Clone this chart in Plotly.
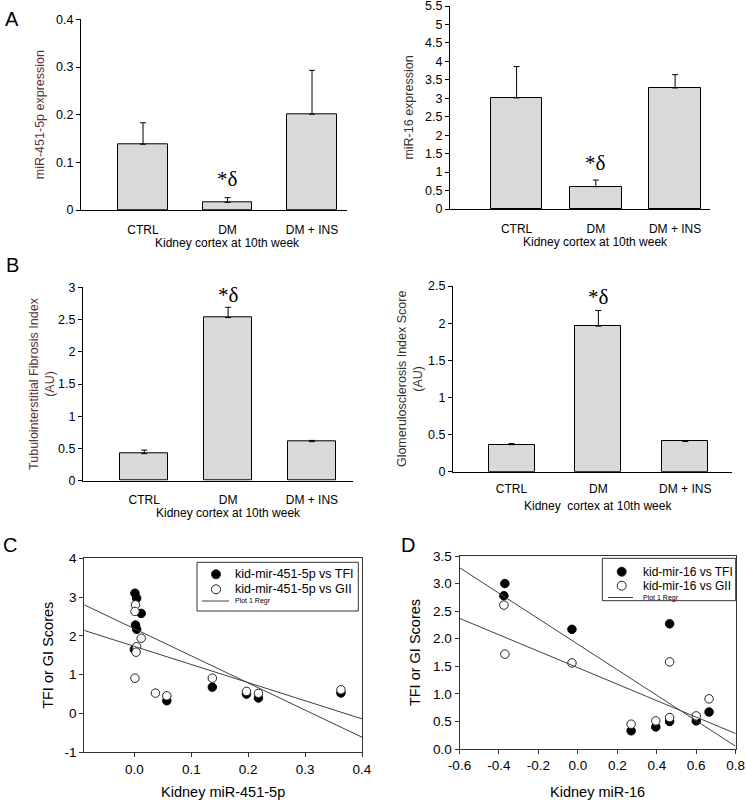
import plotly.graph_objects as go

# ---------------- data ----------------
groups = ["CTRL", "DM", "DM + INS"]

mir451_mean = [0.138, 0.016, 0.201]
mir451_sem = [0.045, 0.010, 0.092]

mir16_mean = [3.01, 0.605, 3.28]
mir16_sem = [0.85, 0.18, 0.36]

tfi_mean = [0.42, 2.53, 0.605]
tfi_sem = [0.055, 0.16, 0.02]

gii_mean = [0.364, 1.96, 0.408]
gii_sem = [0.015, 0.21, 0.005]

# Panel C: kidney miR-451-5p vs TFI / GII
c_tfi_x = [0.001, 0.004, 0.012, 0.002, 0.004, 0.000, 0.057, 0.137, 0.197, 0.218, 0.363]
c_tfi_y = [3.10, 2.97, 2.58, 2.28, 2.17, 1.65, 0.33, 0.68, 0.50, 0.40, 0.53]
c_gii_x = [0.002, 0.001, 0.012, 0.004, 0.003, 0.001, 0.037, 0.057, 0.137, 0.197, 0.218, 0.363]
c_gii_y = [2.80, 2.63, 1.94, 1.72, 1.58, 0.91, 0.525, 0.455, 0.91, 0.57, 0.52, 0.61]
c_regr_intercept = [2.185, 1.73]
c_regr_slope = [-6.99, -4.67]
c_xrange = [-0.088, 0.4]
c_names = ["kid-mir-451-5p vs TFI", "kid-mir-451-5p vs GII", "Plot 1 Regr"]
c_yticks = [-1, 0, 1, 2, 3, 4]
c_yticktext = ["-1", "0", "1", "2", "3", "4"]

# Panel D: kidney miR-16 vs TFI / GII
d_tfi_x = [-0.37, -0.375, -0.03, 0.465, 0.27, 0.395, 0.465, 0.60, 0.665]
d_tfi_y = [3.00, 2.78, 2.17, 2.27, 0.33, 0.40, 0.50, 0.51, 0.67]
d_gii_x = [-0.375, -0.37, -0.03, 0.465, 0.27, 0.395, 0.465, 0.60, 0.665]
d_gii_y = [2.61, 1.72, 1.56, 1.58, 0.45, 0.51, 0.57, 0.60, 0.91]
d_regr_intercept = [1.90, 1.474]
d_regr_slope = [-2.314, -1.493]
d_xrange = [-0.6, 0.8]
d_names = ["kid-mir-16 vs TFI", "kid-mir-16 vs GII", "Plot 1 Regr"]
d_xticks = [-0.6, -0.4, -0.2, 0.0, 0.2, 0.4, 0.6, 0.8]
d_xticktext = ["-0.6", "-0.4", "-0.2", "0.0", "0.2", "0.4", "0.6", "0.8"]

bar_xtitles = ["Kidney cortex at 10th week", "Kidney cortex at 10th week",
               "Kidney cortex at 10th week", "Kidney  cortex at 10th week"]

# ---------------- styling ----------------
W, H = 746, 800
FONT = "Arial, 'Liberation Sans', sans-serif"
SERIF = "'Times New Roman', 'Liberation Serif', serif"
BROWN = "#5a3434"


def px_x(v):
    return v / W


def px_y(v):
    return 1 - v / H


def xd(a, b):
    return [a / W, b / W]


def yd(bottom, top):
    return [1 - bottom / H, 1 - top / H]


fig = go.Figure()

bar_panels = [
    ("x", "y", mir451_mean, mir451_sem, 0.59),
    ("x2", "y2", mir16_mean, mir16_sem, 0.65),
    ("x3", "y3", tfi_mean, tfi_sem, 0.57),
    ("x4", "y4", gii_mean, gii_sem, 0.53),
]
for xa, ya, m, s, w in bar_panels:
    fig.add_trace(go.Bar(
        x=groups, y=m, xaxis=xa, yaxis=ya, width=w,
        marker=dict(color="#d9d9d9", line=dict(color="black", width=1)),
        error_y=dict(type="data", symmetric=False, array=s, arrayminus=[0] * len(s),
                     color="black", thickness=1, width=3),
        showlegend=False,
    ))

# significance markers
for xa, ya, m, s, sh in [("x", "y", mir451_mean, mir451_sem, 5), ("x2", "y2", mir16_mean, mir16_sem, 3),
                         ("x3", "y3", tfi_mean, tfi_sem, -2), ("x4", "y4", gii_mean, gii_sem, 0)]:
    fig.add_annotation(x="DM", y=m[1] + s[1], xref=xa, yref=ya, text="*δ", showarrow=False,
                       yanchor="bottom", yshift=sh, font=dict(family=SERIF, size=21, color="black"))

# bar-panel x titles (centred under the middle bar, as in the source figure)
for xa, title, py in zip(["x", "x2", "x3", "x4"], bar_xtitles, [243.3, 241.7, 512.7, 505.5]):
    fig.add_annotation(x="DM", xref=xa, y=px_y(py), yref="paper", text=title, showarrow=False,
                       xanchor="center", yanchor="middle", font=dict(family=FONT, size=12, color="black"))


# scatter panels
def scatter_panel(xa, ya, tx, ty, gx, gy, icpt, slope, xr, names):
    fig.add_trace(go.Scatter(x=tx, y=ty, xaxis=xa, yaxis=ya, mode="markers", name=names[0],
                             showlegend=False,
                             marker=dict(size=8.5, color="black", line=dict(color="black", width=1))))
    fig.add_trace(go.Scatter(x=gx, y=gy, xaxis=xa, yaxis=ya, mode="markers", name=names[1],
                             showlegend=False,
                             marker=dict(size=8.5, color="white", line=dict(color="#222", width=1))))
    for b0, b1 in zip(icpt, slope):
        fig.add_trace(go.Scatter(x=xr, y=[b0 + b1 * xr[0], b0 + b1 * xr[1]], xaxis=xa, yaxis=ya,
                                 mode="lines", name=names[2], showlegend=False,
                                 line=dict(color="#404040", width=1)))


scatter_panel("x5", "y5", c_tfi_x, c_tfi_y, c_gii_x, c_gii_y, c_regr_intercept, c_regr_slope, c_xrange, c_names)
scatter_panel("x6", "y6", d_tfi_x, d_tfi_y, d_gii_x, d_gii_y, d_regr_intercept, d_regr_slope, d_xrange, d_names)


# compact legend boxes (SigmaPlot style)
def legend_box(names, box, sym_x, rows, line_x, text_x, fsize):
    x0, y0, x1, y1 = box
    fig.add_shape(type="rect", xref="paper", yref="paper", x0=px_x(x0), x1=px_x(x1),
                  y0=px_y(y1), y1=px_y(y0), line=dict(color="#333", width=1), fillcolor="white",
                  layer="above")
    r = 4.5
    for i, fill in enumerate(["black", "white"]):
        fig.add_shape(type="circle", xref="paper", yref="paper",
                      x0=px_x(sym_x - r), x1=px_x(sym_x + r),
                      y0=px_y(rows[i] + r), y1=px_y(rows[i] - r),
                      line=dict(color="#222", width=1), fillcolor=fill, layer="above")
    fig.add_shape(type="line", xref="paper", yref="paper", x0=px_x(line_x[0]), x1=px_x(line_x[1]),
                  y0=px_y(rows[2]), y1=px_y(rows[2]), line=dict(color="#404040", width=1), layer="above")
    for i, nm in enumerate(names):
        fig.add_annotation(x=px_x(text_x), y=px_y(rows[i]), xref="paper", yref="paper", text=nm,
                           showarrow=False, xanchor="left", yanchor="middle",
                           font=dict(family=FONT, size=fsize if i < 2 else 7, color="black"))


legend_box(c_names, (197, 562.3, 358.3, 611), 216, [574.3, 589.3, 601], (202, 229), 233, 12.5)
legend_box(d_names, (602.3, 558.3, 735.7, 600.7), 621.7, [571.7, 585.7, 597.5], (608, 633), 641, 12)

bar_x = dict(showline=True, linecolor="black", linewidth=1.3, ticks="", showgrid=False,
             zeroline=False, tickfont=dict(size=12, color="black"), automargin=False,
             ticklabelstandoff=8)
bar_y = dict(showline=True, linecolor="black", linewidth=1.3, ticks="outside", ticklen=4,
             tickcolor="black", showgrid=False, zeroline=False, automargin=False,
             ticklabeloverflow="allow", tickfont=dict(size=12.5, color="black"))
sc_x = dict(showline=True, mirror=True, linecolor="#333", linewidth=1, ticks="outside", ticklen=4,
            tickcolor="#333", showgrid=False, zeroline=False, automargin=False,
            tickfont=dict(size=13.5, color="black"), tickformat=".1f")
sc_y = dict(showline=True, mirror=True, linecolor="#333", linewidth=1, ticks="outside", ticklen=4,
            tickcolor="#333", showgrid=False, zeroline=False, automargin=False,
            tickfont=dict(size=13.5, color="black"))

fig.update_layout(
    width=W, height=H, margin=dict(l=0, r=0, t=0, b=0),
    paper_bgcolor="white", plot_bgcolor="white",
    font=dict(family=FONT, color="black"),
    bargap=0, showlegend=False,
    xaxis=dict(bar_x, domain=xd(81, 347), range=[-0.734, 2.414], anchor="y"),
    yaxis=dict(bar_y, domain=yd(210, 19.3), range=[0, 0.4001], dtick=0.1, anchor="x",
               title=dict(text="miR-451-5p expression", font=dict(size=12.5, color=BROWN), standoff=8)),
    xaxis2=dict(bar_x, domain=xd(450, 710), range=[-0.84, 2.44], anchor="y2"),
    yaxis2=dict(bar_y, domain=yd(209, 6), range=[0, 5.5001], dtick=0.5, anchor="x2",
                title=dict(text="miR-16 expression", font=dict(size=12.5, color="#333"), standoff=8)),
    xaxis3=dict(bar_x, domain=xd(83, 353), range=[-0.731, 2.49], anchor="y3"),
    yaxis3=dict(bar_y, domain=yd(480.7, 287.3), range=[0, 3.0001], dtick=0.5, anchor="x3",
                title=dict(text="Tubulointerstitial Fibrosis Index<br>(AU)",
                           font=dict(size=12.5, color=BROWN), standoff=0)),
    xaxis4=dict(bar_x, domain=xd(453, 731.7), range=[-0.674, 2.535], anchor="y4", ticklabelstandoff=6),
    yaxis4=dict(bar_y, domain=yd(471.7, 286), range=[0, 2.5001], dtick=0.5, anchor="x4",
                title=dict(text="Glomerulosclerosis Index Score<br>(AU)",
                           font=dict(size=12.5, color="#333"), standoff=2)),
    xaxis5=dict(sc_x, domain=xd(84.3, 362), range=c_xrange, tick0=0, dtick=0.1, anchor="y5",
                title=dict(text="Kidney miR-451-5p", font=dict(size=14.5), standoff=14)),
    yaxis5=dict(sc_y, domain=yd(752.3, 558.3), range=[-1, 4.0001], tickvals=c_yticks,
                ticktext=c_yticktext, anchor="x5",
                title=dict(text="TFI or GI Scores", font=dict(size=14.5), standoff=7)),
    xaxis6=dict(sc_x, domain=xd(459.5, 735.7), range=d_xrange, tickvals=d_xticks,
                ticktext=d_xticktext, anchor="y6",
                title=dict(text="Kidney miR-16", font=dict(size=14.5), standoff=14)),
    yaxis6=dict(sc_y, domain=yd(749, 556), range=[0, 3.5001], dtick=0.5, tickformat=".1f", anchor="x6",
                title=dict(text="TFI or GI Scores", font=dict(size=14.5), standoff=8)),
)

for txt, px, py in [("A", 12, 19), ("B", 12, 265), ("C", 10, 545), ("D", 408, 545)]:
    fig.add_annotation(x=px_x(px), y=px_y(py), xref="paper", yref="paper", text=txt,
                       showarrow=False, xanchor="center", yanchor="middle",
                       font=dict(family=FONT, size=20, color="black"))

fig.write_html("out.html", config={"displayModeBar": False},
               post_script="document.body.style.margin='0';document.body.style.overflow='hidden';")
